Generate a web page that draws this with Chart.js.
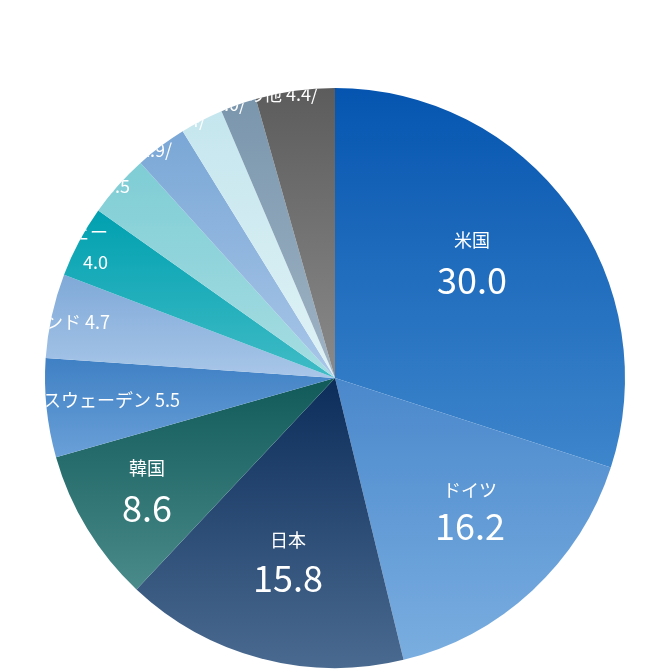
<!DOCTYPE html>
<html><head><meta charset="utf-8">
<script src="https://cdn.jsdelivr.net/npm/chart.js@4"></script>
<style>html,body{margin:0;padding:0;background:#fff}#w{width:670px;height:670px}</style>
</head><body><div id="w"><canvas id="c"></canvas></div>
<script>
const categories=["米国","ドイツ","日本","韓国","スウェーデン","フィンランド","ノルウェー","デンマーク","オランダ","イタリア","スイス","その他"];
const values=[30.0,16.2,15.8,8.6,5.5,4.7,4.0,3.5,2.9,2.4,2.0,4.4];
const topColors=["#0555b0","#4a88cc","#0c2d5a","#115a5a","#3f80c4","#7fa9d8","#00a0b0","#7fcdd5","#7aa7d6","#c5e6ee","#7a96ad","#5c5c5c"];
const botColors=["#3e86cc","#7aaee0","#4a6a90","#4a8a8a","#6aa0d8","#a8c6e8","#40bcc6","#a6dde2","#a8c6e8","#dff2f5","#9fb3c4","#8a8a8a"];
const total=values.reduce((a,b)=>a+b,0);
function arcGeom(chart,i){
  const a=chart.chartArea;const cx=(a.left+a.right)/2,cy=(a.top+a.bottom)/2,r=Math.min(a.right-a.left,a.bottom-a.top)/2;
  let s=0;for(let k=0;k<i;k++)s+=values[k];
  const a0=-Math.PI/2+s/total*2*Math.PI,a1=a0+values[i]/total*2*Math.PI;
  return {cx,cy,r,a0,a1};
}
function grad(ctx){
  const chart=ctx.chart;if(!chart.chartArea)return topColors[ctx.dataIndex];
  const i=ctx.dataIndex;const g=arcGeom(chart,i);
  let ys=[g.cy,g.cy+g.r*Math.sin(g.a0),g.cy+g.r*Math.sin(g.a1)];
  for(const t of [-Math.PI/2,Math.PI/2,3*Math.PI/2]){if(t>g.a0&&t<g.a1)ys.push(g.cy+g.r*Math.sin(t));}
  const y0=Math.min(...ys),y1=Math.max(...ys);
  const lg=chart.ctx.createLinearGradient(0,y0,0,y1);
  lg.addColorStop(0,topColors[i]);lg.addColorStop(1,botColors[i]);return lg;
}
const labels=[
 {t:["米国","30.0"],x:472,y:[240,280],s:[18,36],al:"center"},
 {t:["ドイツ","16.2"],x:470,y:[490,526],s:[18,36],al:"center"},
 {t:["日本","15.8"],x:288,y:[540,578],s:[18,36],al:"center"},
 {t:["韓国","8.6"],x:147,y:[468,508],s:[18,36],al:"center"},
 {t:["スウェーデン 5.5"],x:180,y:[400],s:[18],al:"right"},
 {t:["フィンランド 4.7"],x:110,y:[322],s:[18],al:"right"},
 {t:["ノルウェー","4.0"],x:108,y:[232,262],s:[18,18],al:"right"},
 {t:["デンマーク","3.5"],x:130,y:[158,186],s:[18,18],al:"right"},
 {t:["オランダ 2.9/"],x:172,y:[150],s:[18],al:"right"},
 {t:["イタリア 2.4/"],x:206,y:[120],s:[18],al:"right"},
 {t:["スイス 2.0/"],x:246,y:[104],s:[18],al:"right"},
 {t:["その他 4.4/"],x:318,y:[94],s:[18],al:"right"}
];
const labelPlugin={id:"lbl",afterDatasetsDraw(chart){
  const c=chart.ctx;const g=arcGeom(chart,0);
  c.save();c.beginPath();c.arc(g.cx,g.cy,g.r,0,2*Math.PI);c.clip();
  c.fillStyle="#fff";c.textBaseline="middle";
  labels.forEach(l=>{l.t.forEach((t,j)=>{c.font=`${l.s[j]}px "Noto Sans CJK JP","Noto Sans"`;c.textAlign=l.al;c.fillText(t,l.x,l.y[j]);});});
  c.restore();
}};
new Chart(document.getElementById("c"),{type:"pie",
 data:{labels:categories,datasets:[{data:values,backgroundColor:grad,borderWidth:0}]},
 options:{responsive:true,maintainAspectRatio:false,animation:false,layout:{padding:{top:88,bottom:2,left:0,right:0}},
  plugins:{legend:{display:false},tooltip:{enabled:false}}},
 plugins:[labelPlugin]});
</script></body></html>
